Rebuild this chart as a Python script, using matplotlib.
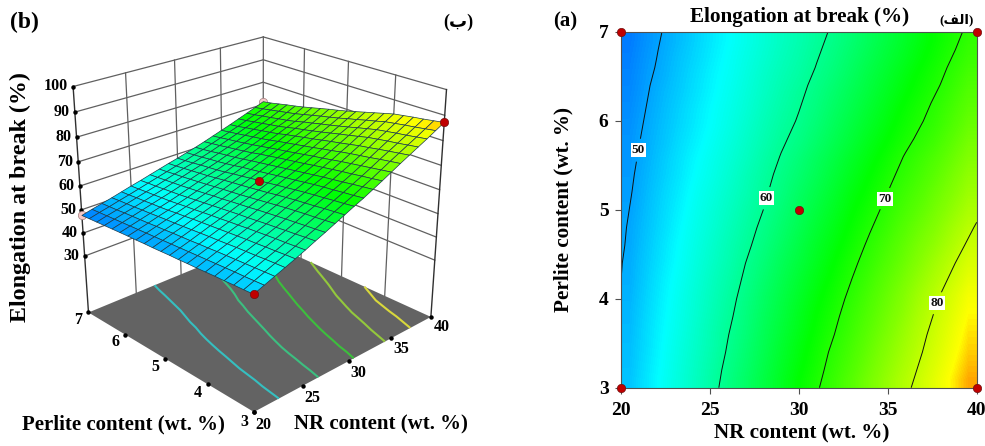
import numpy as np
import matplotlib
matplotlib.use('Agg')
import matplotlib.pyplot as plt
from matplotlib.colors import LinearSegmentedColormap, Normalize

nr_grid = [20, 21, 22, 23, 24, 25, 26, 27, 28, 29, 30, 31, 32, 33, 34, 35, 36, 37, 38, 39, 40]
perlite_grid = [3.0, 3.2, 3.4, 3.6, 3.8, 4.0, 4.2, 4.4, 4.6, 4.8, 5.0, 5.2, 5.4, 5.6, 5.8, 6.0, 6.2, 6.4, 6.6, 6.8, 7.0]

elongation = [
    [51.0, 52.6, 54.2, 55.8, 57.4, 59.1, 60.9, 62.6, 64.4, 66.2, 68.0, 69.7, 71.6, 73.5, 75.5, 77.5, 79.4, 81.3, 83.2, 85.2, 87.2],
    [50.8, 52.4, 54.0, 55.6, 57.2, 58.8, 60.6, 62.2, 64.0, 65.8, 67.5, 69.2, 71.1, 72.9, 74.9, 76.9, 78.8, 80.7, 82.6, 84.6, 86.6],
    [50.7, 52.2, 53.8, 55.4, 56.9, 58.5, 60.2, 61.9, 63.6, 65.4, 67.1, 68.8, 70.6, 72.4, 74.3, 76.3, 78.2, 80.1, 82.0, 84.0, 86.0],
    [50.5, 52.1, 53.6, 55.1, 56.7, 58.3, 59.9, 61.5, 63.3, 64.9, 66.6, 68.3, 70.0, 71.8, 73.7, 75.6, 77.6, 79.6, 81.5, 83.5, 85.5],
    [50.4, 51.9, 53.4, 54.9, 56.4, 58.0, 59.5, 61.2, 62.9, 64.5, 66.2, 67.9, 69.5, 71.3, 73.1, 75.0, 76.9, 79.0, 80.9, 82.9, 84.9],
    [50.2, 51.7, 53.2, 54.7, 56.2, 57.7, 59.2, 60.8, 62.5, 64.1, 65.7, 67.4, 69.0, 70.7, 72.5, 74.4, 76.3, 78.4, 80.3, 82.3, 84.3],
    [50.0, 51.5, 53.0, 54.4, 55.9, 57.4, 58.8, 60.4, 62.0, 63.6, 65.2, 66.8, 68.4, 70.1, 71.8, 73.7, 75.5, 77.5, 79.4, 81.3, 83.3],
    [49.9, 51.3, 52.7, 54.1, 55.6, 57.0, 58.4, 60.0, 61.5, 63.1, 64.6, 66.2, 67.8, 69.5, 71.1, 72.9, 74.7, 76.6, 78.5, 80.4, 82.3],
    [49.7, 51.1, 52.5, 53.9, 55.3, 56.7, 58.1, 59.5, 61.0, 62.5, 64.1, 65.7, 67.2, 68.8, 70.5, 72.2, 74.0, 75.8, 77.5, 79.4, 81.3],
    [49.6, 50.9, 52.2, 53.6, 55.0, 56.3, 57.7, 59.1, 60.5, 62.0, 63.5, 65.1, 66.6, 68.2, 69.8, 71.4, 73.2, 74.9, 76.6, 78.5, 80.3],
    [49.4, 50.7, 52.0, 53.3, 54.7, 56.0, 57.3, 58.7, 60.0, 61.5, 63.0, 64.5, 66.0, 67.6, 69.1, 70.7, 72.4, 74.0, 75.7, 77.5, 79.3],
    [49.2, 50.5, 51.8, 53.0, 54.4, 55.6, 56.9, 58.2, 59.6, 61.0, 62.5, 63.9, 65.4, 67.0, 68.4, 70.0, 71.7, 73.2, 74.9, 76.6, 78.4],
    [49.1, 50.3, 51.5, 52.7, 54.0, 55.2, 56.5, 57.9, 59.2, 60.6, 61.9, 63.3, 64.8, 66.3, 67.8, 69.3, 70.9, 72.4, 74.0, 75.8, 77.6],
    [48.9, 50.1, 51.3, 52.5, 53.7, 54.9, 56.1, 57.4, 58.8, 60.1, 61.4, 62.8, 64.2, 65.7, 67.1, 68.6, 70.2, 71.7, 73.2, 74.9, 76.7],
    [48.8, 49.9, 51.0, 52.2, 53.3, 54.5, 55.7, 57.0, 58.3, 59.6, 60.7, 62.1, 63.5, 64.9, 66.4, 67.8, 69.3, 70.8, 72.2, 74.0, 75.8],
    [48.6, 49.7, 50.8, 51.9, 53.0, 54.1, 55.3, 56.6, 57.9, 59.1, 60.2, 61.5, 62.9, 64.3, 65.7, 67.1, 68.6, 70.0, 71.4, 73.1, 74.9],
    [48.4, 49.5, 50.6, 51.7, 52.8, 53.9, 55.0, 56.2, 57.5, 58.7, 59.8, 61.0, 62.4, 63.7, 65.1, 66.5, 68.0, 69.4, 70.8, 72.4, 74.1],
    [48.2, 49.3, 50.4, 51.4, 52.5, 53.6, 54.7, 55.9, 57.1, 58.3, 59.4, 60.6, 61.9, 63.2, 64.5, 65.9, 67.3, 68.7, 70.1, 71.7, 73.4],
    [48.0, 49.1, 50.1, 51.2, 52.3, 53.4, 54.4, 55.6, 56.8, 57.9, 58.9, 60.1, 61.3, 62.6, 64.0, 65.3, 66.7, 68.1, 69.5, 71.0, 72.6],
    [47.8, 48.9, 49.9, 51.0, 52.0, 53.1, 54.2, 55.3, 56.4, 57.5, 58.5, 59.7, 60.8, 62.1, 63.4, 64.7, 66.0, 67.4, 68.8, 70.3, 71.8],
    [47.6, 48.7, 49.7, 50.7, 51.8, 52.9, 53.9, 55.0, 56.1, 57.2, 58.2, 59.3, 60.4, 61.6, 62.9, 64.2, 65.5, 66.9, 68.3, 69.7, 71.2],
]

nr_ticks = [20, 25, 30, 35, 40]
perlite_ticks = [3, 4, 5, 6, 7]
z_ticks = [30, 40, 50, 60, 70, 80, 90, 100]
z_floor = 4.6

design_nr = [20, 40, 20, 40, 30]
design_perlite = [3, 3, 7, 7, 5]
design_z = [51.0, 87.2, 47.6, 71.2, 63.0]
# points below the surface are pale and partly hidden by it
design_below = [False, False, True, True, False]

floor_levels = [55, 62, 69, 76, 82]
floor_colors = ['#35bfc0', '#3cbf80', '#3cbf3c', '#93c83c', '#d8d83c']
contour_levels = [50, 60, 70, 80]
label_spots = [(21.0, 5.67), (28.2, 5.13), (34.8, 5.13), (37.8, 3.95)]

serif = ['Liberation Serif', 'DejaVu Sans']
plt.rcParams['font.family'] = serif
plt.rcParams['font.weight'] = 'bold'

X, Y = np.meshgrid(nr_grid, perlite_grid)
Z = np.array(elongation)

# blue-cyan-green-yellow-red like the original software
norm = Normalize(41.7, 91.6)
stops = [0, (53.7 - 41.7) / 49.9, (68 - 41.7) / 49.9, (85 - 41.7) / 49.9, 1]
cmap = LinearSegmentedColormap.from_list('rsm', list(zip(stops, ['#0000ff', '#00ffff', '#00ff00', '#ffff00', '#ff0000'])))

fig = plt.figure(figsize=(9.85, 4.46), dpi=100)


def label(x, y, s, **kw):
    # positions given in pixels of the picture
    fig.text(x / 985, 1 - y / 446, s, ha='center', va='center', **kw)


# ---- (b) 3D surface ----
ax3 = fig.add_axes([-0.004, -0.053, 0.52, 1.15], projection='3d', computed_zorder=False)
ax3.set_proj_type('persp', focal_length=0.42)
ax3.view_init(elev=24, azim=-133.5)
ax3.set_box_aspect((1, 1, 0.98), zoom=0.824)
ax3.set_xlim(20, 40, view_margin=0)
ax3.set_ylim(3, 7, view_margin=0)
ax3.set_zlim(z_floor, 100, view_margin=0)
ax3.set_axis_off()

wall = dict(color='#606060', lw=0.9, zorder=1)
for z in z_ticks:
    ax3.plot([20, 40], [7, 7], [z, z], **wall)
    ax3.plot([40, 40], [3, 7], [z, z], **wall)
for nr in nr_ticks[1:-1]:
    ax3.plot([nr, nr], [7, 7], [z_floor, 100], **wall)
for p in perlite_ticks[1:-1]:
    ax3.plot([40, 40], [p, p], [z_floor, 100], **wall)
ax3.plot([40, 40], [7, 7], [z_floor, 100], **wall)
ax3.plot([20, 20], [7, 7], [z_floor, 100], color='#303030', lw=1, zorder=1)
ax3.plot([40, 40], [3, 3], [z_floor, 100], color='#303030', lw=1, zorder=1)

ax3.plot_surface(np.array([[20, 40], [20, 40]]), np.array([[3, 3], [7, 7]]), np.full((2, 2), z_floor),
                 color='#636363', shade=False, linewidth=0, zorder=2)
ax3.contour(X, Y, Z, levels=floor_levels, colors=floor_colors, linewidths=1.5, zdir='z', offset=z_floor, zorder=3)
ax3.plot_surface(X, Y, Z, cmap=cmap, norm=norm, shade=False, rstride=1, cstride=1,
                 edgecolor='#1c3a4a', linewidth=0.5, zorder=5)

ax3.plot([20] * len(z_ticks), [7] * len(z_ticks), z_ticks, 'o', color='k', ms=2.2, zorder=1)
ax3.plot(nr_ticks, [3] * 5, [z_floor] * 5, 'o', color='k', ms=2.2, zorder=4)
ax3.plot([20] * 5, perlite_ticks, [z_floor] * 5, 'o', color='k', ms=2.2, zorder=4)

for i in range(5):
    if design_below[i]:
        ax3.plot([design_nr[i]], [design_perlite[i]], [design_z[i]], 'o', mfc='#f6c8c8', mec='#a08080', mew=0.5, ms=6, zorder=4)
    else:
        ax3.plot([design_nr[i]], [design_perlite[i]], [design_z[i]], 'o', mfc='#c00000', mec='#701010', mew=0.5, ms=6, zorder=6)

for z in z_ticks:
    ax3.text(19.7, 7.06, z, str(z), ha='right', va='center', fontsize=11.5, zorder=7)
for nr in nr_ticks:
    ax3.text(nr - 0.67, 2.67, z_floor, str(nr), ha='center', va='center', fontsize=11.5, zorder=7)
for p in perlite_ticks:
    ax3.text(18.7, p - 0.08, z_floor, str(p), ha='center', va='center', fontsize=11.5, zorder=7)

label(20, 197, 'Elongation at break (%)', rotation=90, fontsize=17.3)
label(123, 424, 'Perlite content (wt. %)', fontsize=15)
label(381, 424, 'NR content (wt. %)', fontsize=15)
label(24, 22, '(b)', fontsize=17)
label(458, 22, '(\ufe8f)', fontsize=13)

# ---- (a) contour map ----
ax = fig.add_axes([621 / 985, 1 - 387.7 / 446, 355.7 / 985, 355.7 / 446])
ax.imshow(Z, origin='lower', extent=(20, 40, 3, 7), aspect='auto', cmap=cmap, norm=norm, interpolation='bilinear')
cs = ax.contour(X, Y, Z, levels=contour_levels, colors='#101010', linewidths=0.7)
texts = ax.clabel(cs, fmt='%d', fontsize=9.5, inline=True, manual=label_spots)
for t in texts:
    t.set_rotation(0)
    t.set_bbox(dict(fc='white', ec='none', pad=0.8))
ax.plot(design_nr, design_perlite, 'o', mfc='#c00000', mec='#701010', mew=0.5, ms=6, clip_on=False, zorder=6)
ax.set_xticks(nr_ticks)
ax.set_yticks(perlite_ticks)
ax.tick_params(labelsize=14, length=4, width=0.8, color='#505050')
ax.tick_params(axis='x', pad=6)
ax.tick_params(axis='y', pad=5)
for s in ax.spines.values():
    s.set_color('#505050')
    s.set_linewidth(0.8)
label(800, 17, 'Elongation at break (%)', fontsize=15.2)
label(802, 433, 'NR content (wt. %)', fontsize=15.2)
label(563, 209, 'Perlite content (wt. %)', rotation=90, fontsize=15.2)
label(565, 21, '(a)', fontsize=15)
label(957, 20, '(\ufed2\ufedf\ufe8d)', fontsize=9.5)

fig.savefig('out.png', dpi=100)
